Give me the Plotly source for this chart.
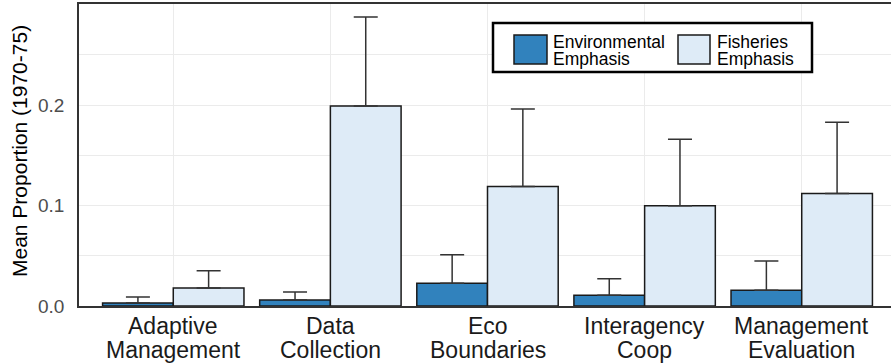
import plotly.graph_objects as go

categories = ["Adaptive Management", "Data Collection", "Eco Boundaries",
              "Interagency Coop", "Management Evaluation"]
env_mean = [0.003, 0.006, 0.0226, 0.0107, 0.0157]
env_upper = [0.009, 0.014, 0.051, 0.027, 0.0447]
fish_mean = [0.018, 0.199, 0.119, 0.0997, 0.112]
fish_upper = [0.035, 0.2876, 0.196, 0.166, 0.183]
legend_labels = [["Environmental", "Emphasis"], ["Fisheries", "Emphasis"]]
y_title = "Mean Proportion (1970-75)"

ENV_COLOR = "#3182bd"
FISH_COLOR = "#deebf7"
FONT = "Liberation Sans, Arial, sans-serif"

# the panel runs slightly past the right edge of the 891px window (clipped)
W, H = 896, 364
L, R, T, B = 79, 0, 4, 58


def px_x(p):
    return (p - L) / (W - L - R)


def px_y(p):
    return (H - B - p) / (H - B - T)


fig = go.Figure()
fig.add_trace(go.Bar(
    x=categories, y=env_mean, name="Environmental Emphasis",
    marker=dict(color=ENV_COLOR, line=dict(color="#1a1a1a", width=1.5)),
    error_y=dict(type="data", symmetric=False,
                 array=[u - m for u, m in zip(env_upper, env_mean)],
                 arrayminus=[0] * len(env_mean),
                 color="#333333", thickness=1.5, width=12),
))
fig.add_trace(go.Bar(
    x=categories, y=fish_mean, name="Fisheries Emphasis",
    marker=dict(color=FISH_COLOR, line=dict(color="#1a1a1a", width=1.5)),
    error_y=dict(type="data", symmetric=False,
                 array=[u - m for u, m in zip(fish_upper, fish_mean)],
                 arrayminus=[0] * len(fish_mean),
                 color="#333333", thickness=1.5, width=12),
))

shapes = [
    # manual legend (box, swatches)
    dict(type="rect", xref="paper", yref="paper",
         x0=px_x(493), x1=px_x(812), y0=px_y(72), y1=px_y(23),
         line=dict(color="black", width=2.5), fillcolor="white", layer="above"),
    dict(type="rect", xref="paper", yref="paper",
         x0=px_x(514), x1=px_x(547), y0=px_y(64), y1=px_y(35),
         line=dict(color="#1a1a1a", width=1.5), fillcolor=ENV_COLOR, layer="above"),
    dict(type="rect", xref="paper", yref="paper",
         x0=px_x(678), x1=px_x(710), y0=px_y(64), y1=px_y(35),
         line=dict(color="#1a1a1a", width=1.5), fillcolor=FISH_COLOR, layer="above"),
]
annotations = []
for lx, lines in zip([551, 715], legend_labels):
    for ly, txt in zip([42, 59], lines):
        annotations.append(dict(
            xref="paper", yref="paper", x=px_x(lx), y=px_y(ly),
            xanchor="left", yanchor="middle", text=txt, showarrow=False,
            font=dict(family=FONT, size=17.5, color="black")))

# category labels, two tight lines each
for cat in categories:
    first, second = cat.split(" ", 1)
    for ly, txt in zip([325.5, 350], [first, second]):
        annotations.append(dict(
            xref="x", yref="paper", x=cat, y=px_y(ly),
            xanchor="center", yanchor="middle", text=txt, showarrow=False,
            font=dict(family=FONT, size=23, color="#1a1a1a")))

# y axis title
annotations.append(dict(
    xref="paper", yref="paper", x=px_x(19), y=px_y(151),
    xanchor="center", yanchor="middle", text=y_title, textangle=-90,
    showarrow=False, font=dict(family=FONT, size=21, color="black")))

fig.update_layout(
    width=W, height=H,
    margin=dict(l=L, r=R, t=T, b=B, pad=0),
    paper_bgcolor="white", plot_bgcolor="white",
    barmode="group", bargap=0.1, bargroupgap=0,
    showlegend=False, hovermode=False,
    font=dict(family=FONT, size=18, color="black"),
    shapes=shapes, annotations=annotations,
    xaxis=dict(range=[-0.6, 4.6], showgrid=True, gridcolor="#ebebeb", gridwidth=1.2,
               showline=True, linecolor="#333333", linewidth=1.5, mirror=True,
               showticklabels=False, ticks="", automargin=False, zeroline=False),
    yaxis=dict(range=[0, 0.3006], dtick=0.1, tickformat=".1f",
               showgrid=True, gridcolor="#ebebeb", gridwidth=1.2,
               minor=dict(dtick=0.05, showgrid=True, gridcolor="#ebebeb", gridwidth=1),
               showline=True, linecolor="#333333", linewidth=1.5,
               ticks="outside", ticklen=9, tickcolor="rgba(0,0,0,0)",
               tickfont=dict(family=FONT, size=19, color="#4d4d4d"), zeroline=False,
               automargin=False),
)

fig.write_html("out.html", config={"displayModeBar": False},
               post_script="document.body.style.margin='0';document.body.style.overflow='hidden';")
